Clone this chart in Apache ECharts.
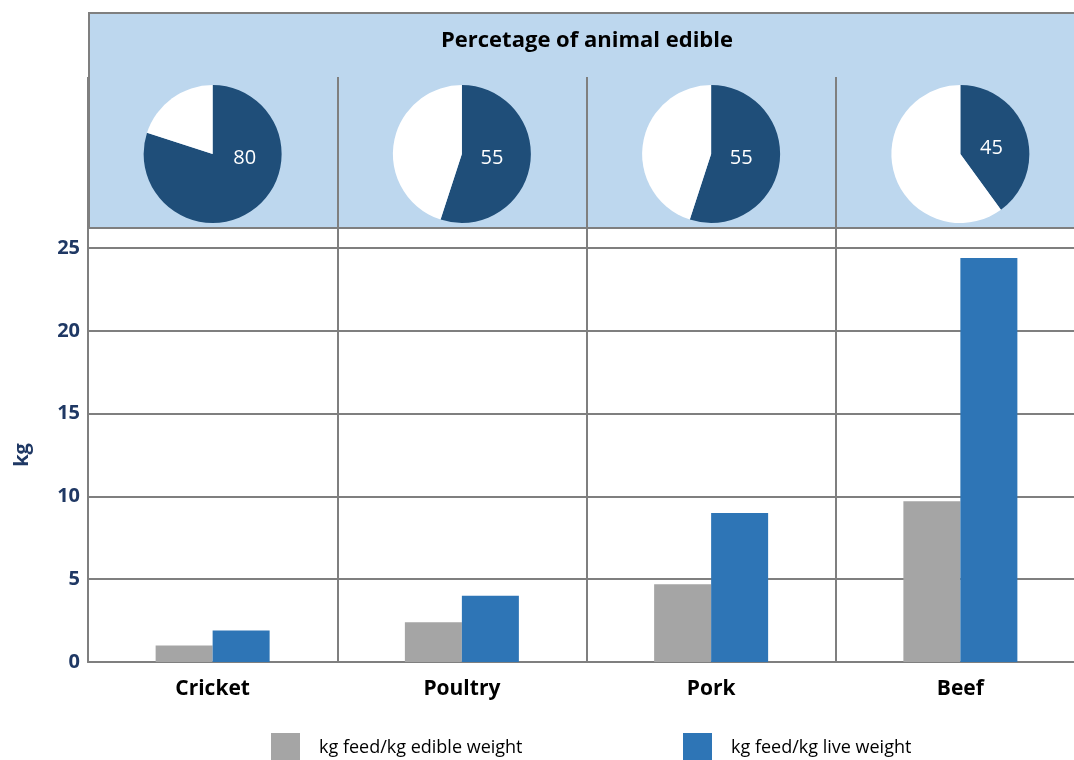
<!DOCTYPE html>
<html>
<head>
<meta charset="utf-8">
<script src="https://cdn.jsdelivr.net/npm/echarts@6/dist/echarts.min.js"></script>
<style>
html,body{margin:0;padding:0;background:#fff;}
#main{width:1074px;height:760px;}
</style>
</head>
<body>
<div id="main"></div>
<script>
const categories = ['Cricket', 'Poultry', 'Pork', 'Beef'];
// slice sizes as drawn in the picture, and the numbers printed on them
const edibleSlice = [80, 55, 55, 40];
const edibleLabels = ['80', '55', '55', '45'];
const feedPerEdible = [1.0, 2.4, 4.7, 9.7];
const feedPerLive = [1.9, 4.0, 9.0, 24.4];
const yTicks = [0, 5, 10, 15, 20, 25];
const seriesNames = ['kg feed/kg edible weight', 'kg feed/kg live weight'];
const pieTitle = 'Percetage of animal edible';
const yName = 'kg';

const FONT = '"Open Sans", Lato, sans-serif';
const GRID_LEFT = 88, GRID_WIDTH = 997;
const chart = echarts.init(document.getElementById('main'), null, {renderer: 'canvas'});

const option = {
  animation: false,
  backgroundColor: '#ffffff',
  textStyle: {fontFamily: FONT},
  title: {
    text: pieTitle,
    left: 587, top: 30, textAlign: 'center', padding: 0,
    textStyle: {fontFamily: FONT, fontWeight: 'bold', fontSize: 22, color: '#000'}
  },
  graphic: [{
    type: 'rect', z: -10, silent: true,
    shape: {x: 89, y: 13, width: 1000, height: 215},
    style: {fill: '#BDD7EE', stroke: '#7F7F7F', lineWidth: 2}
  }],
  legend: [
    {data: [seriesNames[0]], left: 271, top: 733, padding: 0, itemWidth: 29, itemHeight: 29, icon: 'rect',
     textStyle: {fontFamily: FONT, fontSize: 18, color: '#000', padding: [0, 0, 0, 14]}},
    {data: [seriesNames[1]], left: 683, top: 733, padding: 0, itemWidth: 29, itemHeight: 29, icon: 'rect',
     textStyle: {fontFamily: FONT, fontSize: 18, color: '#000', padding: [0, 0, 0, 14]}}
  ],
  grid: [
    {left: GRID_LEFT, width: GRID_WIDTH, top: 248, bottom: 98, containLabel: false, outerBoundsMode: 'none'},
    {left: GRID_LEFT, width: GRID_WIDTH, top: 77, bottom: 98, containLabel: false, outerBoundsMode: 'none'}
  ],
  xAxis: [
    {type: 'category', gridIndex: 0, data: categories,
     axisLine: {show: true, lineStyle: {color: '#7F7F7F', width: 2}},
     axisTick: {show: false},
     splitLine: {show: false},
     axisLabel: {fontFamily: FONT, fontWeight: 'bold', fontSize: 21, color: '#000', margin: 17}},
    {type: 'category', gridIndex: 1, data: categories,
     axisLine: {show: false}, axisTick: {show: false}, axisLabel: {show: false},
     splitLine: {show: true, lineStyle: {color: '#7F7F7F', width: 2}}}
  ],
  yAxis: [
    {type: 'value', gridIndex: 0, min: yTicks[0], max: yTicks[yTicks.length - 1], interval: 5,
     name: yName, nameLocation: 'middle', nameRotate: 90, nameGap: 56,
     nameTextStyle: {fontFamily: FONT, fontWeight: 'bold', fontSize: 20, color: '#1F3864'},
     axisLine: {show: true, lineStyle: {color: '#7F7F7F', width: 2}},
     axisTick: {show: false},
     axisLabel: {fontFamily: FONT, fontWeight: 'bold', fontSize: 20, color: '#1F3864', margin: 8},
     splitLine: {show: true, lineStyle: {color: '#7F7F7F', width: 2}}},
    {type: 'value', gridIndex: 1, show: false, min: 0, max: 1, splitLine: {show: false}}
  ],
  series: [
    {name: seriesNames[0], type: 'bar', xAxisIndex: 0, yAxisIndex: 0, data: feedPerEdible,
     barWidth: 57, barGap: '0%', itemStyle: {color: '#A5A5A5'}},
    {name: seriesNames[1], type: 'bar', xAxisIndex: 0, yAxisIndex: 0, data: feedPerLive,
     barWidth: 57, barGap: '0%', itemStyle: {color: '#2E75B6'}}
  ]
};
chart.setOption(option);

// pies placed at the category centres given by the divider axis
const labelOffsets = [[32, 4], [30, 4], [30, 4], [31, -6]];
const pies = categories.map((c, i) => {
  const cx = chart.convertToPixel({xAxisIndex: 1}, c);
  return {
    type: 'pie', silent: true, radius: 69, center: [cx, 154],
    startAngle: 90, clockwise: true,
    label: {show: false},
    labelLine: {show: false},
    data: [
      {value: edibleSlice[i], name: c + ' edible',
       itemStyle: {color: '#1F4E79'},
       label: {show: true, position: 'center', offset: labelOffsets[i],
               formatter: edibleLabels[i], color: '#fff', fontFamily: FONT, fontSize: 20}},
      {value: 100 - edibleSlice[i], name: c + ' rest', itemStyle: {color: '#FFFFFF'}}
    ]
  };
});
chart.setOption({series: option.series.concat(pies)});
</script>
</body>
</html>
